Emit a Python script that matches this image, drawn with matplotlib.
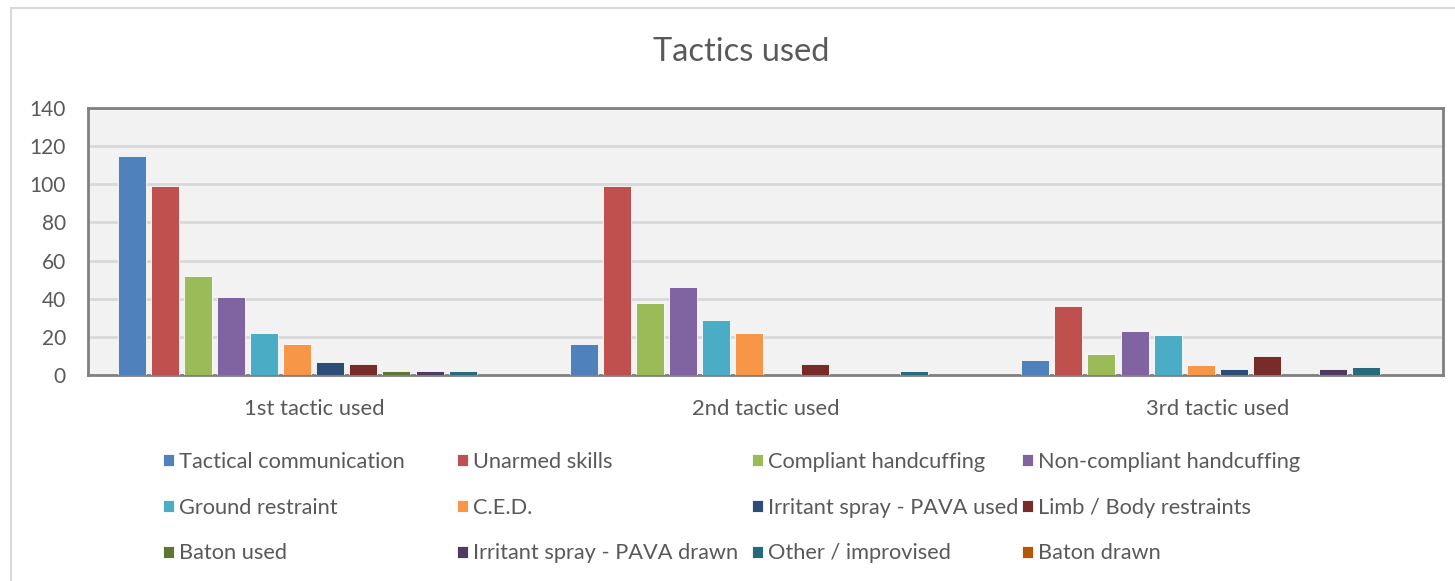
import numpy as np
import matplotlib
matplotlib.use("Agg")
from matplotlib import pyplot as plt
from matplotlib.patches import Rectangle

categories = ["1st tactic used", "2nd tactic used", "3rd tactic used"]

series_names = [
    "Tactical communication", "Unarmed skills", "Compliant handcuffing",
    "Non-compliant handcuffing", "Ground restraint", "C.E.D.",
    "Irritant spray - PAVA used", "Limb / Body restraints", "Baton used",
    "Irritant spray - PAVA drawn", "Other / improvised", "Baton drawn",
]

tactical_communication = [115, 16, 8]
unarmed_skills = [99, 99, 36]
compliant_handcuffing = [52, 38, 11]
non_compliant_handcuffing = [41, 46, 23]
ground_restraint = [22, 29, 21]
ced = [16, 22, 5]
pava_used = [7, 0, 3]
limb_body_restraints = [6, 6, 10]
baton_used = [2, 0, 0]
pava_drawn = [2, 0, 3]
other_improvised = [2, 2, 4]
baton_drawn = [0, 0, 0]

series_values = [
    tactical_communication, unarmed_skills, compliant_handcuffing,
    non_compliant_handcuffing, ground_restraint, ced, pava_used,
    limb_body_restraints, baton_used, pava_drawn, other_improvised, baton_drawn,
]

colors = ["#4F81BD", "#C0504D", "#9BBB59", "#8064A2", "#4BACC6", "#F79646",
          "#2C4D75", "#772C2A", "#5F7530", "#4D3B62", "#276A7C", "#B65708"]

W, H = 1455, 581
plt.rcParams['font.family'] = ['Lato', 'DejaVu Sans']
text_color = "#595959"

fig = plt.figure(figsize=(W / 100, H / 100), dpi=100)
fig.patch.set_facecolor("white")

# outer chart border (runs off the right/bottom edge like the source)
fig.patches.append(Rectangle((11 / W, -0.05), 1.2, 1 - 8 / H + 0.05,
                             transform=fig.transFigure, fill=False,
                             edgecolor="#D9D9D9", linewidth=1.5))

ax = fig.add_axes([88 / W, 1 - 375 / H, 1355 / W, 267 / H])
ax.set_facecolor("#F2F2F2")

x = np.arange(len(categories))
pitch = 0.0732
width = 0.062
handles = []
for i, (name, vals) in enumerate(zip(series_names, series_values)):
    offs = (i - 5.5) * pitch
    b = ax.bar(x + offs, vals, width, color=colors[i], label=name,
               edgecolor="#FFFFFF", linewidth=0.6, zorder=3)
    handles.append(b)

ax.set_xlim(-0.5, 2.5)
ax.set_ylim(0, 140)
ax.set_yticks(range(0, 141, 20))
ax.yaxis.grid(True, color="#D9D9D9", linewidth=2, zorder=0)
ax.set_xticks(x)
ax.set_xticklabels(categories)
ax.tick_params(axis="both", length=0, colors=text_color)
ax.tick_params(axis="y", pad=16, labelsize=15)
ax.tick_params(axis="x", pad=17, labelsize=15.8)
for side in ["left", "right", "top", "bottom"]:
    ax.spines[side].set_color("#808080")
    ax.spines[side].set_linewidth(2)

fig.text(741 / W, 1 - 52 / H, "Tactics used", ha="center", va="center",
         fontsize=23.5, color=text_color)

# legend laid out in 4 columns, row-major order like the source
col_x = [163, 457, 752, 1022]
for j in range(4):
    hs = [handles[j + 4 * r] for r in range(3)]
    ls = [series_names[j + 4 * r] for r in range(3)]
    leg = fig.legend(hs, ls, loc="upper left",
                     bbox_to_anchor=(col_x[j] / W, 1 - 452 / H),
                     frameon=False, fontsize=15.7, handlelength=0.5,
                     handleheight=0.5, handletextpad=0.25, labelspacing=1.18,
                     borderpad=0, borderaxespad=0)
    for t in leg.get_texts():
        t.set_color(text_color)

fig.savefig("out.png", dpi=100)
